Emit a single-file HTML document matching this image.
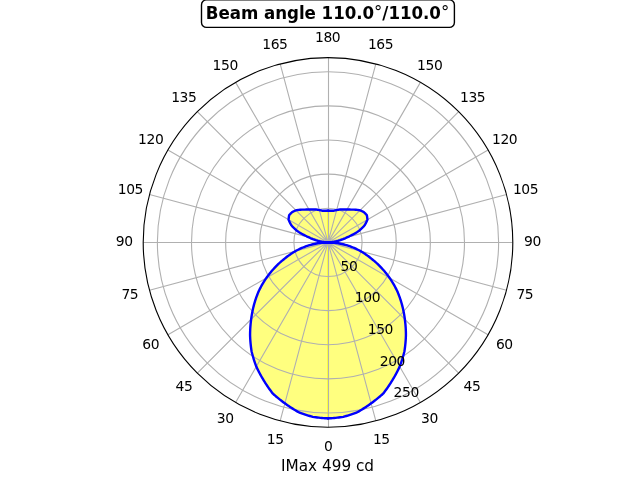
<!DOCTYPE html>
<html><head><meta charset="utf-8"><title>Beam angle</title>
<style>html,body{margin:0;padding:0;background:#fff;overflow:hidden}body{width:640px;height:480px}</style></head>
<body>
<svg width="640" height="480" viewBox="0 0 640 480" style="display:block;font-family:'DejaVu Sans','Liberation Sans',sans-serif">
<rect width="640" height="480" fill="#fff"/>
<defs><clipPath id="c"><circle cx="328.0" cy="242.4" r="184.8"/></clipPath></defs>
<g clip-path="url(#c)">
<path d="M328.00 418.40 L329.54 418.31 L331.07 418.21 L332.60 418.09 L334.13 417.96 L335.66 417.82 L337.18 417.66 L338.71 417.49 L340.23 417.31 L341.75 417.11 L343.27 416.90 L344.76 416.46 L346.25 416.01 L347.73 415.55 L349.20 415.07 L350.67 414.59 L352.13 414.09 L353.58 413.57 L355.03 413.05 L356.47 412.51 L357.90 411.96 L359.28 411.15 L360.64 410.32 L361.99 409.48 L363.33 408.64 L364.66 407.78 L365.98 406.91 L367.28 406.03 L368.58 405.14 L369.85 404.24 L371.12 403.33 L372.38 402.41 L373.62 401.48 L374.84 400.54 L376.06 399.60 L377.26 398.64 L378.45 397.67 L379.63 396.70 L380.79 395.71 L381.94 394.72 L383.08 393.72 L384.09 392.41 L385.08 391.09 L386.05 389.76 L387.00 388.43 L387.93 387.10 L388.85 385.75 L389.75 384.41 L390.62 383.06 L391.48 381.70 L392.32 380.34 L393.14 378.98 L393.95 377.61 L394.73 376.24 L395.49 374.87 L396.24 373.49 L396.97 372.11 L397.67 370.72 L398.36 369.34 L399.03 367.95 L399.69 366.56 L400.25 365.05 L400.79 363.54 L401.31 362.04 L401.81 360.53 L402.29 359.02 L402.75 357.51 L403.19 356.00 L403.61 354.50 L404.01 352.99 L404.39 351.49 L404.64 349.85 L404.87 348.21 L405.08 346.57 L405.27 344.94 L405.43 343.31 L405.57 341.69 L405.69 340.07 L405.79 338.46 L405.86 336.86 L405.92 335.26 L405.91 333.62 L405.88 331.99 L405.82 330.36 L405.75 328.75 L405.65 327.14 L405.53 325.54 L405.39 323.95 L405.22 322.37 L405.04 320.79 L404.83 319.23 L404.63 317.70 L404.41 316.19 L404.17 314.68 L403.90 313.18 L403.62 311.69 L403.32 310.22 L403.00 308.75 L402.65 307.30 L402.29 305.85 L401.91 304.42 L401.51 303.00 L401.09 301.59 L400.65 300.19 L400.20 298.81 L399.72 297.43 L399.23 296.07 L398.72 294.73 L398.19 293.39 L397.64 292.07 L397.07 290.76 L396.41 289.41 L395.72 288.08 L395.02 286.76 L394.30 285.45 L393.56 284.17 L392.80 282.89 L392.03 281.64 L391.24 280.40 L390.43 279.18 L389.61 277.97 L388.77 276.78 L387.91 275.61 L387.03 274.45 L386.14 273.31 L385.23 272.19 L384.31 271.09 L383.37 270.01 L382.42 268.94 L381.45 267.89 L380.47 266.87 L379.51 265.87 L378.53 264.90 L377.54 263.94 L376.54 263.00 L375.53 262.09 L374.50 261.19 L373.46 260.31 L372.41 259.45 L371.35 258.61 L370.28 257.79 L369.35 257.04 L368.41 256.31 L367.46 255.60 L366.50 254.91 L365.53 254.23 L364.55 253.57 L363.57 252.93 L362.57 252.31 L361.57 251.71 L360.56 251.12 L359.50 250.55 L358.44 249.99 L357.37 249.45 L356.29 248.93 L355.21 248.43 L354.11 247.95 L353.02 247.49 L351.91 247.05 L350.80 246.63 L349.69 246.22 L348.56 245.84 L347.42 245.48 L346.28 245.13 L345.14 244.81 L343.99 244.51 L342.84 244.22 L341.68 243.96 L340.53 243.72 L339.36 243.49 L338.20 243.29 L337.19 243.12 L336.17 242.97 L335.15 242.84 L334.13 242.72 L333.11 242.62 L332.09 242.54 L331.07 242.48 L330.05 242.44 L329.02 242.41 L328.00 242.40 L328.44 242.40 L328.89 242.38 L329.33 242.37 L329.77 242.34 L330.22 242.30 L330.66 242.26 L331.10 242.21 L331.54 242.15 L331.98 242.09 L332.42 242.01 L333.23 241.90 L334.04 241.77 L334.85 241.62 L335.65 241.46 L336.46 241.29 L337.26 241.10 L338.06 240.90 L338.85 240.68 L339.65 240.45 L340.43 240.21 L341.11 239.97 L341.78 239.72 L342.45 239.46 L343.12 239.19 L343.78 238.90 L344.44 238.60 L345.09 238.30 L345.74 237.98 L346.39 237.64 L347.03 237.30 L348.20 236.80 L349.36 236.28 L350.51 235.73 L351.65 235.17 L352.79 234.58 L353.91 233.98 L355.03 233.36 L356.14 232.71 L357.24 232.05 L358.33 231.36 L358.99 230.81 L359.65 230.25 L360.31 229.67 L360.95 229.09 L361.59 228.49 L362.21 227.88 L362.83 227.25 L363.45 226.62 L364.05 225.97 L364.64 225.31 L364.95 224.77 L365.25 224.23 L365.55 223.68 L365.84 223.12 L366.12 222.56 L366.40 221.98 L366.66 221.41 L366.92 220.82 L367.18 220.23 L367.42 219.64 L367.39 219.20 L367.35 218.76 L367.30 218.32 L367.25 217.87 L367.20 217.43 L367.14 216.98 L367.08 216.54 L367.01 216.09 L366.93 215.64 L366.85 215.19 L366.58 214.88 L366.30 214.58 L366.01 214.27 L365.73 213.97 L365.44 213.67 L365.15 213.37 L364.86 213.08 L364.57 212.79 L364.27 212.50 L363.97 212.22 L363.59 212.01 L363.20 211.80 L362.81 211.60 L362.43 211.40 L362.04 211.21 L361.65 211.02 L361.26 210.83 L360.87 210.65 L360.48 210.48 L360.09 210.31 L359.62 210.22 L359.15 210.15 L358.68 210.07 L358.21 210.01 L357.74 209.94 L357.27 209.89 L356.81 209.84 L356.34 209.80 L355.88 209.76 L355.42 209.72 L354.96 209.69 L354.51 209.66 L354.06 209.64 L353.61 209.63 L353.16 209.61 L352.71 209.61 L352.26 209.61 L351.82 209.61 L351.38 209.62 L350.94 209.64 L350.54 209.60 L350.14 209.57 L349.75 209.54 L349.35 209.52 L348.96 209.50 L348.56 209.49 L348.17 209.48 L347.78 209.48 L347.39 209.47 L347.01 209.48 L346.64 209.46 L346.26 209.45 L345.89 209.44 L345.53 209.44 L345.16 209.44 L344.79 209.44 L344.43 209.45 L344.07 209.46 L343.70 209.47 L343.34 209.49 L343.00 209.48 L342.66 209.47 L342.32 209.46 L341.98 209.46 L341.65 209.45 L341.31 209.46 L340.97 209.46 L340.64 209.47 L340.31 209.48 L339.97 209.50 L339.63 209.54 L339.30 209.59 L338.96 209.64 L338.63 209.70 L338.29 209.76 L337.96 209.82 L337.63 209.88 L337.30 209.95 L336.98 210.02 L336.66 210.10 L336.34 210.15 L336.03 210.20 L335.72 210.26 L335.41 210.32 L335.10 210.38 L334.79 210.45 L334.49 210.52 L334.18 210.59 L333.88 210.67 L333.58 210.74 L333.30 210.73 L333.02 210.72 L332.73 210.72 L332.45 210.72 L332.17 210.72 L331.89 210.72 L331.61 210.72 L331.33 210.73 L331.05 210.74 L330.77 210.75 L330.49 210.74 L330.21 210.73 L329.94 210.72 L329.66 210.71 L329.38 210.71 L329.11 210.71 L328.83 210.71 L328.55 210.72 L328.28 210.72 L328.00 210.73 Z" fill="#ffff00" fill-opacity="0.5" stroke="#ffff00" stroke-opacity="0.5" stroke-width="1.39" stroke-linejoin="miter"/>
<path d="M328.00 418.40 L326.46 418.31 L324.93 418.21 L323.40 418.09 L321.87 417.96 L320.34 417.82 L318.82 417.66 L317.29 417.49 L315.77 417.31 L314.25 417.11 L312.73 416.90 L311.24 416.46 L309.75 416.01 L308.27 415.55 L306.80 415.07 L305.33 414.59 L303.87 414.09 L302.42 413.57 L300.97 413.05 L299.53 412.51 L298.10 411.96 L296.72 411.15 L295.36 410.32 L294.01 409.48 L292.67 408.64 L291.34 407.78 L290.02 406.91 L288.72 406.03 L287.42 405.14 L286.15 404.24 L284.88 403.33 L283.62 402.41 L282.38 401.48 L281.16 400.54 L279.94 399.60 L278.74 398.64 L277.55 397.67 L276.37 396.70 L275.21 395.71 L274.06 394.72 L272.92 393.72 L271.91 392.41 L270.92 391.09 L269.95 389.76 L269.00 388.43 L268.07 387.10 L267.15 385.75 L266.25 384.41 L265.38 383.06 L264.52 381.70 L263.68 380.34 L262.86 378.98 L262.05 377.61 L261.27 376.24 L260.51 374.87 L259.76 373.49 L259.03 372.11 L258.33 370.72 L257.64 369.34 L256.97 367.95 L256.31 366.56 L255.75 365.05 L255.21 363.54 L254.69 362.04 L254.19 360.53 L253.71 359.02 L253.25 357.51 L252.81 356.00 L252.39 354.50 L251.99 352.99 L251.61 351.49 L251.36 349.85 L251.13 348.21 L250.92 346.57 L250.73 344.94 L250.57 343.31 L250.43 341.69 L250.31 340.07 L250.21 338.46 L250.14 336.86 L250.08 335.26 L250.09 333.62 L250.12 331.99 L250.18 330.36 L250.25 328.75 L250.35 327.14 L250.47 325.54 L250.61 323.95 L250.78 322.37 L250.96 320.79 L251.17 319.23 L251.37 317.70 L251.59 316.19 L251.83 314.68 L252.10 313.18 L252.38 311.69 L252.68 310.22 L253.00 308.75 L253.35 307.30 L253.71 305.85 L254.09 304.42 L254.49 303.00 L254.91 301.59 L255.35 300.19 L255.80 298.81 L256.28 297.43 L256.77 296.07 L257.28 294.73 L257.81 293.39 L258.36 292.07 L258.93 290.76 L259.59 289.41 L260.28 288.08 L260.98 286.76 L261.70 285.45 L262.44 284.17 L263.20 282.89 L263.97 281.64 L264.76 280.40 L265.57 279.18 L266.39 277.97 L267.23 276.78 L268.09 275.61 L268.97 274.45 L269.86 273.31 L270.77 272.19 L271.69 271.09 L272.63 270.01 L273.58 268.94 L274.55 267.89 L275.53 266.87 L276.49 265.87 L277.47 264.90 L278.46 263.94 L279.46 263.00 L280.47 262.09 L281.50 261.19 L282.54 260.31 L283.59 259.45 L284.65 258.61 L285.72 257.79 L286.65 257.04 L287.59 256.31 L288.54 255.60 L289.50 254.91 L290.47 254.23 L291.45 253.57 L292.43 252.93 L293.43 252.31 L294.43 251.71 L295.44 251.12 L296.50 250.55 L297.56 249.99 L298.63 249.45 L299.71 248.93 L300.79 248.43 L301.89 247.95 L302.98 247.49 L304.09 247.05 L305.20 246.63 L306.31 246.22 L307.44 245.84 L308.58 245.48 L309.72 245.13 L310.86 244.81 L312.01 244.51 L313.16 244.22 L314.32 243.96 L315.47 243.72 L316.64 243.49 L317.80 243.29 L318.81 243.12 L319.83 242.97 L320.85 242.84 L321.87 242.72 L322.89 242.62 L323.91 242.54 L324.93 242.48 L325.95 242.44 L326.98 242.41 L328.00 242.40 L327.56 242.40 L327.11 242.38 L326.67 242.37 L326.23 242.34 L325.78 242.30 L325.34 242.26 L324.90 242.21 L324.46 242.15 L324.02 242.09 L323.58 242.01 L322.77 241.90 L321.96 241.77 L321.15 241.62 L320.35 241.46 L319.54 241.29 L318.74 241.10 L317.94 240.90 L317.15 240.68 L316.35 240.45 L315.57 240.21 L314.89 239.97 L314.22 239.72 L313.55 239.46 L312.88 239.19 L312.22 238.90 L311.56 238.60 L310.91 238.30 L310.26 237.98 L309.61 237.64 L308.97 237.30 L307.80 236.80 L306.64 236.28 L305.49 235.73 L304.35 235.17 L303.21 234.58 L302.09 233.98 L300.97 233.36 L299.86 232.71 L298.76 232.05 L297.67 231.36 L297.01 230.81 L296.35 230.25 L295.69 229.67 L295.05 229.09 L294.41 228.49 L293.79 227.88 L293.17 227.25 L292.55 226.62 L291.95 225.97 L291.36 225.31 L291.05 224.77 L290.75 224.23 L290.45 223.68 L290.16 223.12 L289.88 222.56 L289.60 221.98 L289.34 221.41 L289.08 220.82 L288.82 220.23 L288.58 219.64 L288.61 219.20 L288.65 218.76 L288.70 218.32 L288.75 217.87 L288.80 217.43 L288.86 216.98 L288.92 216.54 L288.99 216.09 L289.07 215.64 L289.15 215.19 L289.42 214.88 L289.70 214.58 L289.99 214.27 L290.27 213.97 L290.56 213.67 L290.85 213.37 L291.14 213.08 L291.43 212.79 L291.73 212.50 L292.03 212.22 L292.41 212.01 L292.80 211.80 L293.19 211.60 L293.57 211.40 L293.96 211.21 L294.35 211.02 L294.74 210.83 L295.13 210.65 L295.52 210.48 L295.91 210.31 L296.38 210.22 L296.85 210.15 L297.32 210.07 L297.79 210.01 L298.26 209.94 L298.73 209.89 L299.19 209.84 L299.66 209.80 L300.12 209.76 L300.58 209.72 L301.04 209.69 L301.49 209.66 L301.94 209.64 L302.39 209.63 L302.84 209.61 L303.29 209.61 L303.74 209.61 L304.18 209.61 L304.62 209.62 L305.06 209.64 L305.46 209.60 L305.86 209.57 L306.25 209.54 L306.65 209.52 L307.04 209.50 L307.44 209.49 L307.83 209.48 L308.22 209.48 L308.61 209.47 L308.99 209.48 L309.36 209.46 L309.74 209.45 L310.11 209.44 L310.47 209.44 L310.84 209.44 L311.21 209.44 L311.57 209.45 L311.93 209.46 L312.30 209.47 L312.66 209.49 L313.00 209.48 L313.34 209.47 L313.68 209.46 L314.02 209.46 L314.35 209.45 L314.69 209.46 L315.03 209.46 L315.36 209.47 L315.69 209.48 L316.03 209.50 L316.37 209.54 L316.70 209.59 L317.04 209.64 L317.37 209.70 L317.71 209.76 L318.04 209.82 L318.37 209.88 L318.70 209.95 L319.02 210.02 L319.34 210.10 L319.66 210.15 L319.97 210.20 L320.28 210.26 L320.59 210.32 L320.90 210.38 L321.21 210.45 L321.51 210.52 L321.82 210.59 L322.12 210.67 L322.42 210.74 L322.70 210.73 L322.98 210.72 L323.27 210.72 L323.55 210.72 L323.83 210.72 L324.11 210.72 L324.39 210.72 L324.67 210.73 L324.95 210.74 L325.23 210.75 L325.51 210.74 L325.79 210.73 L326.06 210.72 L326.34 210.71 L326.62 210.71 L326.89 210.71 L327.17 210.71 L327.45 210.72 L327.72 210.72 L328.00 210.73 Z" fill="#ffff00" fill-opacity="0.5" stroke="#ffff00" stroke-opacity="0.5" stroke-width="1.39" stroke-linejoin="miter"/>
<path d="M328.5 242.4L328.50 427.20M328.0 242.4L375.83 420.90M328.0 242.4L420.40 402.44M328.0 242.4L458.67 373.07M328.0 242.4L488.04 334.80M328.0 242.4L506.50 290.23M328.0 242.5L512.80 242.50M328.0 242.4L506.50 194.57M328.0 242.4L488.04 150.00M328.0 242.4L458.67 111.73M328.0 242.4L420.40 82.36M328.0 242.4L375.83 63.90M328.5 242.4L328.50 57.60M328.0 242.4L280.17 63.90M328.0 242.4L235.60 82.36M328.0 242.4L197.33 111.73M328.0 242.4L167.96 150.00M328.0 242.4L149.50 194.57M328.0 242.5L143.20 242.50M328.0 242.4L149.50 290.23M328.0 242.4L167.96 334.80M328.0 242.4L197.33 373.07M328.0 242.4L235.60 402.44M328.0 242.4L280.17 420.90" fill="none" stroke="#b0b0b0" stroke-width="1.11"/>
<circle cx="328.0" cy="242.4" r="34.12" fill="none" stroke="#b0b0b0" stroke-width="1.11"/>
<circle cx="328.0" cy="242.4" r="68.25" fill="none" stroke="#b0b0b0" stroke-width="1.11"/>
<circle cx="328.0" cy="242.4" r="102.37" fill="none" stroke="#b0b0b0" stroke-width="1.11"/>
<circle cx="328.0" cy="242.4" r="136.50" fill="none" stroke="#b0b0b0" stroke-width="1.11"/>
<circle cx="328.0" cy="242.4" r="170.62" fill="none" stroke="#b0b0b0" stroke-width="1.11"/>
<path d="M328.00 418.40 L329.54 418.31 L331.07 418.21 L332.60 418.09 L334.13 417.96 L335.66 417.82 L337.18 417.66 L338.71 417.49 L340.23 417.31 L341.75 417.11 L343.27 416.90 L344.76 416.46 L346.25 416.01 L347.73 415.55 L349.20 415.07 L350.67 414.59 L352.13 414.09 L353.58 413.57 L355.03 413.05 L356.47 412.51 L357.90 411.96 L359.28 411.15 L360.64 410.32 L361.99 409.48 L363.33 408.64 L364.66 407.78 L365.98 406.91 L367.28 406.03 L368.58 405.14 L369.85 404.24 L371.12 403.33 L372.38 402.41 L373.62 401.48 L374.84 400.54 L376.06 399.60 L377.26 398.64 L378.45 397.67 L379.63 396.70 L380.79 395.71 L381.94 394.72 L383.08 393.72 L384.09 392.41 L385.08 391.09 L386.05 389.76 L387.00 388.43 L387.93 387.10 L388.85 385.75 L389.75 384.41 L390.62 383.06 L391.48 381.70 L392.32 380.34 L393.14 378.98 L393.95 377.61 L394.73 376.24 L395.49 374.87 L396.24 373.49 L396.97 372.11 L397.67 370.72 L398.36 369.34 L399.03 367.95 L399.69 366.56 L400.25 365.05 L400.79 363.54 L401.31 362.04 L401.81 360.53 L402.29 359.02 L402.75 357.51 L403.19 356.00 L403.61 354.50 L404.01 352.99 L404.39 351.49 L404.64 349.85 L404.87 348.21 L405.08 346.57 L405.27 344.94 L405.43 343.31 L405.57 341.69 L405.69 340.07 L405.79 338.46 L405.86 336.86 L405.92 335.26 L405.91 333.62 L405.88 331.99 L405.82 330.36 L405.75 328.75 L405.65 327.14 L405.53 325.54 L405.39 323.95 L405.22 322.37 L405.04 320.79 L404.83 319.23 L404.63 317.70 L404.41 316.19 L404.17 314.68 L403.90 313.18 L403.62 311.69 L403.32 310.22 L403.00 308.75 L402.65 307.30 L402.29 305.85 L401.91 304.42 L401.51 303.00 L401.09 301.59 L400.65 300.19 L400.20 298.81 L399.72 297.43 L399.23 296.07 L398.72 294.73 L398.19 293.39 L397.64 292.07 L397.07 290.76 L396.41 289.41 L395.72 288.08 L395.02 286.76 L394.30 285.45 L393.56 284.17 L392.80 282.89 L392.03 281.64 L391.24 280.40 L390.43 279.18 L389.61 277.97 L388.77 276.78 L387.91 275.61 L387.03 274.45 L386.14 273.31 L385.23 272.19 L384.31 271.09 L383.37 270.01 L382.42 268.94 L381.45 267.89 L380.47 266.87 L379.51 265.87 L378.53 264.90 L377.54 263.94 L376.54 263.00 L375.53 262.09 L374.50 261.19 L373.46 260.31 L372.41 259.45 L371.35 258.61 L370.28 257.79 L369.35 257.04 L368.41 256.31 L367.46 255.60 L366.50 254.91 L365.53 254.23 L364.55 253.57 L363.57 252.93 L362.57 252.31 L361.57 251.71 L360.56 251.12 L359.50 250.55 L358.44 249.99 L357.37 249.45 L356.29 248.93 L355.21 248.43 L354.11 247.95 L353.02 247.49 L351.91 247.05 L350.80 246.63 L349.69 246.22 L348.56 245.84 L347.42 245.48 L346.28 245.13 L345.14 244.81 L343.99 244.51 L342.84 244.22 L341.68 243.96 L340.53 243.72 L339.36 243.49 L338.20 243.29 L337.19 243.12 L336.17 242.97 L335.15 242.84 L334.13 242.72 L333.11 242.62 L332.09 242.54 L331.07 242.48 L330.05 242.44 L329.02 242.41 L328.00 242.40 L328.44 242.40 L328.89 242.38 L329.33 242.37 L329.77 242.34 L330.22 242.30 L330.66 242.26 L331.10 242.21 L331.54 242.15 L331.98 242.09 L332.42 242.01 L333.23 241.90 L334.04 241.77 L334.85 241.62 L335.65 241.46 L336.46 241.29 L337.26 241.10 L338.06 240.90 L338.85 240.68 L339.65 240.45 L340.43 240.21 L341.11 239.97 L341.78 239.72 L342.45 239.46 L343.12 239.19 L343.78 238.90 L344.44 238.60 L345.09 238.30 L345.74 237.98 L346.39 237.64 L347.03 237.30 L348.20 236.80 L349.36 236.28 L350.51 235.73 L351.65 235.17 L352.79 234.58 L353.91 233.98 L355.03 233.36 L356.14 232.71 L357.24 232.05 L358.33 231.36 L358.99 230.81 L359.65 230.25 L360.31 229.67 L360.95 229.09 L361.59 228.49 L362.21 227.88 L362.83 227.25 L363.45 226.62 L364.05 225.97 L364.64 225.31 L364.95 224.77 L365.25 224.23 L365.55 223.68 L365.84 223.12 L366.12 222.56 L366.40 221.98 L366.66 221.41 L366.92 220.82 L367.18 220.23 L367.42 219.64 L367.39 219.20 L367.35 218.76 L367.30 218.32 L367.25 217.87 L367.20 217.43 L367.14 216.98 L367.08 216.54 L367.01 216.09 L366.93 215.64 L366.85 215.19 L366.58 214.88 L366.30 214.58 L366.01 214.27 L365.73 213.97 L365.44 213.67 L365.15 213.37 L364.86 213.08 L364.57 212.79 L364.27 212.50 L363.97 212.22 L363.59 212.01 L363.20 211.80 L362.81 211.60 L362.43 211.40 L362.04 211.21 L361.65 211.02 L361.26 210.83 L360.87 210.65 L360.48 210.48 L360.09 210.31 L359.62 210.22 L359.15 210.15 L358.68 210.07 L358.21 210.01 L357.74 209.94 L357.27 209.89 L356.81 209.84 L356.34 209.80 L355.88 209.76 L355.42 209.72 L354.96 209.69 L354.51 209.66 L354.06 209.64 L353.61 209.63 L353.16 209.61 L352.71 209.61 L352.26 209.61 L351.82 209.61 L351.38 209.62 L350.94 209.64 L350.54 209.60 L350.14 209.57 L349.75 209.54 L349.35 209.52 L348.96 209.50 L348.56 209.49 L348.17 209.48 L347.78 209.48 L347.39 209.47 L347.01 209.48 L346.64 209.46 L346.26 209.45 L345.89 209.44 L345.53 209.44 L345.16 209.44 L344.79 209.44 L344.43 209.45 L344.07 209.46 L343.70 209.47 L343.34 209.49 L343.00 209.48 L342.66 209.47 L342.32 209.46 L341.98 209.46 L341.65 209.45 L341.31 209.46 L340.97 209.46 L340.64 209.47 L340.31 209.48 L339.97 209.50 L339.63 209.54 L339.30 209.59 L338.96 209.64 L338.63 209.70 L338.29 209.76 L337.96 209.82 L337.63 209.88 L337.30 209.95 L336.98 210.02 L336.66 210.10 L336.34 210.15 L336.03 210.20 L335.72 210.26 L335.41 210.32 L335.10 210.38 L334.79 210.45 L334.49 210.52 L334.18 210.59 L333.88 210.67 L333.58 210.74 L333.30 210.73 L333.02 210.72 L332.73 210.72 L332.45 210.72 L332.17 210.72 L331.89 210.72 L331.61 210.72 L331.33 210.73 L331.05 210.74 L330.77 210.75 L330.49 210.74 L330.21 210.73 L329.94 210.72 L329.66 210.71 L329.38 210.71 L329.11 210.71 L328.83 210.71 L328.55 210.72 L328.28 210.72 L328.00 210.73" fill="none" stroke="#0000ff" stroke-width="2.4" stroke-linecap="square" stroke-linejoin="round"/>
<path d="M328.00 418.40 L326.46 418.31 L324.93 418.21 L323.40 418.09 L321.87 417.96 L320.34 417.82 L318.82 417.66 L317.29 417.49 L315.77 417.31 L314.25 417.11 L312.73 416.90 L311.24 416.46 L309.75 416.01 L308.27 415.55 L306.80 415.07 L305.33 414.59 L303.87 414.09 L302.42 413.57 L300.97 413.05 L299.53 412.51 L298.10 411.96 L296.72 411.15 L295.36 410.32 L294.01 409.48 L292.67 408.64 L291.34 407.78 L290.02 406.91 L288.72 406.03 L287.42 405.14 L286.15 404.24 L284.88 403.33 L283.62 402.41 L282.38 401.48 L281.16 400.54 L279.94 399.60 L278.74 398.64 L277.55 397.67 L276.37 396.70 L275.21 395.71 L274.06 394.72 L272.92 393.72 L271.91 392.41 L270.92 391.09 L269.95 389.76 L269.00 388.43 L268.07 387.10 L267.15 385.75 L266.25 384.41 L265.38 383.06 L264.52 381.70 L263.68 380.34 L262.86 378.98 L262.05 377.61 L261.27 376.24 L260.51 374.87 L259.76 373.49 L259.03 372.11 L258.33 370.72 L257.64 369.34 L256.97 367.95 L256.31 366.56 L255.75 365.05 L255.21 363.54 L254.69 362.04 L254.19 360.53 L253.71 359.02 L253.25 357.51 L252.81 356.00 L252.39 354.50 L251.99 352.99 L251.61 351.49 L251.36 349.85 L251.13 348.21 L250.92 346.57 L250.73 344.94 L250.57 343.31 L250.43 341.69 L250.31 340.07 L250.21 338.46 L250.14 336.86 L250.08 335.26 L250.09 333.62 L250.12 331.99 L250.18 330.36 L250.25 328.75 L250.35 327.14 L250.47 325.54 L250.61 323.95 L250.78 322.37 L250.96 320.79 L251.17 319.23 L251.37 317.70 L251.59 316.19 L251.83 314.68 L252.10 313.18 L252.38 311.69 L252.68 310.22 L253.00 308.75 L253.35 307.30 L253.71 305.85 L254.09 304.42 L254.49 303.00 L254.91 301.59 L255.35 300.19 L255.80 298.81 L256.28 297.43 L256.77 296.07 L257.28 294.73 L257.81 293.39 L258.36 292.07 L258.93 290.76 L259.59 289.41 L260.28 288.08 L260.98 286.76 L261.70 285.45 L262.44 284.17 L263.20 282.89 L263.97 281.64 L264.76 280.40 L265.57 279.18 L266.39 277.97 L267.23 276.78 L268.09 275.61 L268.97 274.45 L269.86 273.31 L270.77 272.19 L271.69 271.09 L272.63 270.01 L273.58 268.94 L274.55 267.89 L275.53 266.87 L276.49 265.87 L277.47 264.90 L278.46 263.94 L279.46 263.00 L280.47 262.09 L281.50 261.19 L282.54 260.31 L283.59 259.45 L284.65 258.61 L285.72 257.79 L286.65 257.04 L287.59 256.31 L288.54 255.60 L289.50 254.91 L290.47 254.23 L291.45 253.57 L292.43 252.93 L293.43 252.31 L294.43 251.71 L295.44 251.12 L296.50 250.55 L297.56 249.99 L298.63 249.45 L299.71 248.93 L300.79 248.43 L301.89 247.95 L302.98 247.49 L304.09 247.05 L305.20 246.63 L306.31 246.22 L307.44 245.84 L308.58 245.48 L309.72 245.13 L310.86 244.81 L312.01 244.51 L313.16 244.22 L314.32 243.96 L315.47 243.72 L316.64 243.49 L317.80 243.29 L318.81 243.12 L319.83 242.97 L320.85 242.84 L321.87 242.72 L322.89 242.62 L323.91 242.54 L324.93 242.48 L325.95 242.44 L326.98 242.41 L328.00 242.40 L327.56 242.40 L327.11 242.38 L326.67 242.37 L326.23 242.34 L325.78 242.30 L325.34 242.26 L324.90 242.21 L324.46 242.15 L324.02 242.09 L323.58 242.01 L322.77 241.90 L321.96 241.77 L321.15 241.62 L320.35 241.46 L319.54 241.29 L318.74 241.10 L317.94 240.90 L317.15 240.68 L316.35 240.45 L315.57 240.21 L314.89 239.97 L314.22 239.72 L313.55 239.46 L312.88 239.19 L312.22 238.90 L311.56 238.60 L310.91 238.30 L310.26 237.98 L309.61 237.64 L308.97 237.30 L307.80 236.80 L306.64 236.28 L305.49 235.73 L304.35 235.17 L303.21 234.58 L302.09 233.98 L300.97 233.36 L299.86 232.71 L298.76 232.05 L297.67 231.36 L297.01 230.81 L296.35 230.25 L295.69 229.67 L295.05 229.09 L294.41 228.49 L293.79 227.88 L293.17 227.25 L292.55 226.62 L291.95 225.97 L291.36 225.31 L291.05 224.77 L290.75 224.23 L290.45 223.68 L290.16 223.12 L289.88 222.56 L289.60 221.98 L289.34 221.41 L289.08 220.82 L288.82 220.23 L288.58 219.64 L288.61 219.20 L288.65 218.76 L288.70 218.32 L288.75 217.87 L288.80 217.43 L288.86 216.98 L288.92 216.54 L288.99 216.09 L289.07 215.64 L289.15 215.19 L289.42 214.88 L289.70 214.58 L289.99 214.27 L290.27 213.97 L290.56 213.67 L290.85 213.37 L291.14 213.08 L291.43 212.79 L291.73 212.50 L292.03 212.22 L292.41 212.01 L292.80 211.80 L293.19 211.60 L293.57 211.40 L293.96 211.21 L294.35 211.02 L294.74 210.83 L295.13 210.65 L295.52 210.48 L295.91 210.31 L296.38 210.22 L296.85 210.15 L297.32 210.07 L297.79 210.01 L298.26 209.94 L298.73 209.89 L299.19 209.84 L299.66 209.80 L300.12 209.76 L300.58 209.72 L301.04 209.69 L301.49 209.66 L301.94 209.64 L302.39 209.63 L302.84 209.61 L303.29 209.61 L303.74 209.61 L304.18 209.61 L304.62 209.62 L305.06 209.64 L305.46 209.60 L305.86 209.57 L306.25 209.54 L306.65 209.52 L307.04 209.50 L307.44 209.49 L307.83 209.48 L308.22 209.48 L308.61 209.47 L308.99 209.48 L309.36 209.46 L309.74 209.45 L310.11 209.44 L310.47 209.44 L310.84 209.44 L311.21 209.44 L311.57 209.45 L311.93 209.46 L312.30 209.47 L312.66 209.49 L313.00 209.48 L313.34 209.47 L313.68 209.46 L314.02 209.46 L314.35 209.45 L314.69 209.46 L315.03 209.46 L315.36 209.47 L315.69 209.48 L316.03 209.50 L316.37 209.54 L316.70 209.59 L317.04 209.64 L317.37 209.70 L317.71 209.76 L318.04 209.82 L318.37 209.88 L318.70 209.95 L319.02 210.02 L319.34 210.10 L319.66 210.15 L319.97 210.20 L320.28 210.26 L320.59 210.32 L320.90 210.38 L321.21 210.45 L321.51 210.52 L321.82 210.59 L322.12 210.67 L322.42 210.74 L322.70 210.73 L322.98 210.72 L323.27 210.72 L323.55 210.72 L323.83 210.72 L324.11 210.72 L324.39 210.72 L324.67 210.73 L324.95 210.74 L325.23 210.75 L325.51 210.74 L325.79 210.73 L326.06 210.72 L326.34 210.71 L326.62 210.71 L326.89 210.71 L327.17 210.71 L327.45 210.72 L327.72 210.72 L328.00 210.73" fill="none" stroke="#0000ff" stroke-width="2.4" stroke-linecap="square" stroke-linejoin="round"/>
<path d="M322.5 242.4L333.5 242.4" fill="none" stroke="#0000ff" stroke-width="3" stroke-linecap="round"/>
</g>
<circle cx="328.0" cy="242.4" r="184.8" fill="none" stroke="#000" stroke-width="1.11"/>
<rect x="201.50" y="-0.10" width="252.90" height="27.50" rx="5" ry="5" fill="#fff" stroke="#000" stroke-width="1.39"/>
<text x="328.26" y="451.00" font-size="13.89" text-anchor="middle" letter-spacing="-0.4">0</text>
<text x="381.33" y="444.00" font-size="13.89" text-anchor="middle" letter-spacing="-0.4">15</text>
<text x="429.41" y="423.00" font-size="13.89" text-anchor="middle" letter-spacing="-0.4">30</text>
<text x="472.00" y="391.00" font-size="13.89" text-anchor="middle" letter-spacing="-0.4">45</text>
<text x="504.38" y="349.00" font-size="13.89" text-anchor="middle" letter-spacing="-0.4">60</text>
<text x="524.85" y="299.00" font-size="13.89" text-anchor="middle" letter-spacing="-0.4">75</text>
<text x="532.39" y="246.00" font-size="13.89" text-anchor="middle" letter-spacing="-0.4">90</text>
<text x="525.57" y="194.00" font-size="13.89" text-anchor="middle" letter-spacing="-0.4">105</text>
<text x="504.61" y="144.00" font-size="13.89" text-anchor="middle" letter-spacing="-0.4">120</text>
<text x="472.65" y="102.00" font-size="13.89" text-anchor="middle" letter-spacing="-0.4">135</text>
<text x="429.68" y="70.00" font-size="13.89" text-anchor="middle" letter-spacing="-0.4">150</text>
<text x="380.55" y="49.00" font-size="13.89" text-anchor="middle" letter-spacing="-0.4">165</text>
<text x="327.66" y="42.00" font-size="13.89" text-anchor="middle" letter-spacing="-0.4">180</text>
<text x="274.87" y="49.00" font-size="13.89" text-anchor="middle" letter-spacing="-0.4">165</text>
<text x="225.21" y="70.00" font-size="13.89" text-anchor="middle" letter-spacing="-0.4">150</text>
<text x="183.82" y="102.00" font-size="13.89" text-anchor="middle" letter-spacing="-0.4">135</text>
<text x="150.70" y="144.00" font-size="13.89" text-anchor="middle" letter-spacing="-0.4">120</text>
<text x="130.36" y="194.00" font-size="13.89" text-anchor="middle" letter-spacing="-0.4">105</text>
<text x="124.25" y="246.00" font-size="13.89" text-anchor="middle" letter-spacing="-0.4">90</text>
<text x="129.83" y="299.00" font-size="13.89" text-anchor="middle" letter-spacing="-0.4">75</text>
<text x="150.68" y="349.00" font-size="13.89" text-anchor="middle" letter-spacing="-0.4">60</text>
<text x="184.01" y="391.00" font-size="13.89" text-anchor="middle" letter-spacing="-0.4">45</text>
<text x="225.28" y="423.00" font-size="13.89" text-anchor="middle" letter-spacing="-0.4">30</text>
<text x="275.29" y="444.00" font-size="13.89" text-anchor="middle" letter-spacing="-0.4">15</text>
<text x="327.57" y="471.00" font-size="15.28" text-anchor="middle" letter-spacing="0">IMax 499 cd</text>
<text x="340.46" y="271.00" font-size="13.89" text-anchor="start" letter-spacing="-0.4">50</text>
<text x="354.82" y="302.00" font-size="13.89" text-anchor="start" letter-spacing="-0.4">100</text>
<text x="367.78" y="334.00" font-size="13.89" text-anchor="start" letter-spacing="-0.4">150</text>
<text x="379.74" y="366.00" font-size="13.89" text-anchor="start" letter-spacing="-0.4">200</text>
<text x="393.59" y="397.00" font-size="13.89" text-anchor="start" letter-spacing="-0.4">250</text>
<text transform="translate(205.8 18.60) scale(1 1.07)" x="0" y="0" font-size="16.67" font-weight="700" letter-spacing="-0.04">Beam angle 110.0<tspan font-weight="400" dy="-0.5">°</tspan><tspan dy="0.5">/110.0</tspan><tspan font-weight="400" dy="-0.5">°</tspan></text>
</svg>
</body></html>
